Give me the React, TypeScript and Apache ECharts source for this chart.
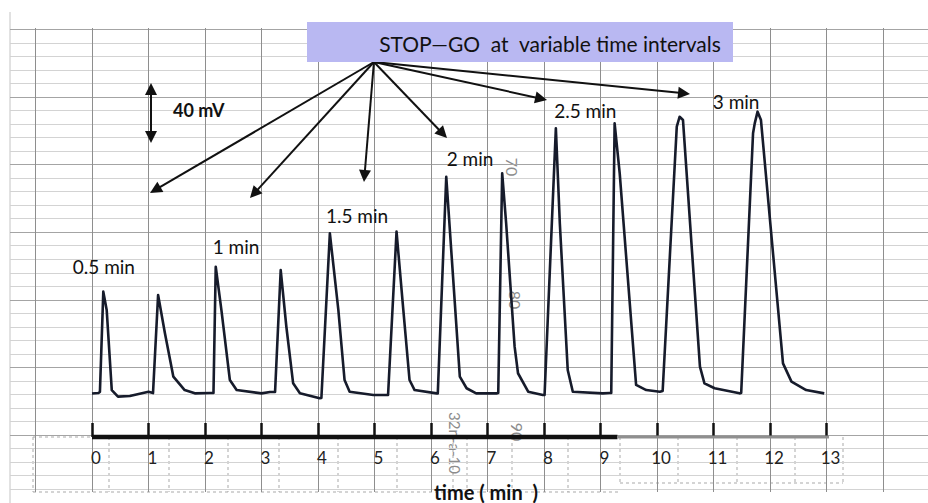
import React, { useEffect, useRef } from "react";
import * as echarts from "echarts";

const W = 928;
const H = 503;

// Recorder trace: time (min) and detector signal (mV above baseline)
const TRACE_TIME = [
  0, 0.11, 0.14, 0.2, 0.26, 0.35, 0.46, 0.67, 1.0, 1.08, 1.17, 1.29, 1.44, 1.64, 1.82,
  2.09, 2.15, 2.19, 2.29, 2.44, 2.56, 3.0, 3.15, 3.24, 3.34, 3.44, 3.56, 3.68, 4.03,
  4.06, 4.21, 4.36, 4.47, 4.56, 4.98, 5.21, 5.24, 5.39, 5.51, 5.62, 5.71, 6.1, 6.12,
  6.27, 6.39, 6.51, 6.63, 6.8, 7.16, 7.19, 7.26, 7.33, 7.48, 7.54, 7.72, 7.98, 8.01,
  8.21, 8.28, 8.42, 8.51, 9.04, 9.16, 9.19, 9.25, 9.34, 9.63, 9.81, 10.05, 10.1, 10.35,
  10.4, 10.46, 10.76, 10.84, 11.02, 11.46, 11.49, 11.7, 11.73, 11.78, 11.84, 12.23,
  12.38, 12.64, 12.96,
];
const TRACE_MV = [
  1, 1.3, 2, 68.9, 56.7, 3.3, -1.1, -0.7, 2.2, 1.3, 66.7, 41.3, 12.2, 3.3, 1.1,
  1.3, 1.3, 85.5, 56.7, 10, 3.3, 1.1, 2, 2, 83.3, 45.5, 7.8, 1.1, -2.2,
  -2, 107.8, 56.7, 10, 2.2, 0, 0, 0, 108.9, 56.7, 10, 3.3, 1.1, 1.1,
  145.5, 78.9, 12.2, 4.5, 1.1, 1.1, 1.3, 147.8, 114.5, 32.2, 14.5, 2.2, 0, 0,
  177.8, 114.5, 16.7, 2.2, 1.1, 1.3, 1.3, 181.1, 147.8, 6.7, 3.3, 2.2, 2.7, 178.9,
  185.5, 183.3, 18.9, 7.8, 4.5, 1.1, 1.3, 174.5, 181.1, 188.9, 183.3, 21.1,
  8.9, 3.3, 1.1,
];

// Time axis
const TIME_TICK_LABELS = ["0", "1", "2", "3", "4", "5", "6", "7", "8", "9", "10", "11", "12", "13"];
const TIME_MIN = 0;
const TIME_MAX = 13;
const MV_MIN = -28;
const MV_MAX = 260;

// Stop-go interval annotations
const INTERVAL_LABELS = ["0.5 min", "1 min", "1.5 min", "2 min", "2.5 min", "3 min"];
const INTERVAL_LABEL_TIME = [0.21, 2.55, 4.69, 6.69, 8.73, 11.4];
const INTERVAL_LABEL_MV = [86, 98.7, 120, 158, 190, 196];

// Callout arrows from the heading box (tips in time / mV)
const ARROW_ORIGIN_TIME = 4.99;
const ARROW_ORIGIN_MV = 222;
const ARROW_TIP_TIME = [1.027, 2.796, 4.814, 6.283, 8.053, 10.584];
const ARROW_TIP_MV = [134.7, 131.3, 142, 171.3, 196.7, 200.7];

// 40 mV scale bar
const SCALE_BAR_TIME = 1.044;
const SCALE_BAR_MV = [168, 208];
const SCALE_BAR_LABEL = "40 mV";
const SCALE_LABEL_TIME = 1.89;
const SCALE_LABEL_MV = 190;

const TITLE = "STOP\u2014GO  at  variable time intervals";
const AXIS_TITLE = "time ( min  )";

// layout of the plotting area
const PLOT_LEFT = 92;
const PLOT_RIGHT = 101.5;
const PLOT_TOP = 5;
const PLOT_BOTTOM = 66;
const ARROW = 12;
const FONT = "Lato, 'Open Sans', sans-serif";

const pxPerMin = (W - PLOT_LEFT - PLOT_RIGHT) / (TIME_MAX - TIME_MIN);
const pxPerMv = (H - PLOT_TOP - PLOT_BOTTOM) / (MV_MAX - MV_MIN);

// pull an arrow end back by half the head size so the head's tip lands on the target
function headCentre(t0: number, v0: number, t1: number, v1: number) {
  const dx = (t1 - t0) * pxPerMin;
  const dy = (v1 - v0) * pxPerMv;
  const len = Math.hypot(dx, dy) || 1;
  const back = ARROW / 2;
  return [t1 - (dx / len) * back / pxPerMin, v1 - (dy / len) * back / pxPerMv];
}

export default function App() {
  const ref = useRef<HTMLDivElement>(null);

  useEffect(() => {
    if (!ref.current) return;
    const chart = echarts.init(ref.current, null, { renderer: "svg" });

    const trace = TRACE_TIME.map((t, i) => [t, TRACE_MV[i]]);

    const labelItems: any[] = INTERVAL_LABELS.map((name, i) => ({
      name,
      value: [INTERVAL_LABEL_TIME[i], INTERVAL_LABEL_MV[i]],
    }));
    labelItems.push({
      name: SCALE_BAR_LABEL,
      value: [SCALE_LABEL_TIME, SCALE_LABEL_MV],
      label: { fontWeight: "bold", fontSize: 18 },
    });

    const arrowLines: any[] = ARROW_TIP_TIME.map((t, i) => [
      { coord: [ARROW_ORIGIN_TIME, ARROW_ORIGIN_MV], symbol: "none" },
      {
        coord: headCentre(ARROW_ORIGIN_TIME, ARROW_ORIGIN_MV, t, ARROW_TIP_MV[i]),
        symbol: "triangle",
      },
    ]);
    const mid = (SCALE_BAR_MV[0] + SCALE_BAR_MV[1]) / 2;
    arrowLines.push([
      { coord: headCentre(SCALE_BAR_TIME, mid, SCALE_BAR_TIME, SCALE_BAR_MV[0]), symbol: "triangle" },
      { coord: headCentre(SCALE_BAR_TIME, mid, SCALE_BAR_TIME, SCALE_BAR_MV[1]), symbol: "triangle" },
    ]);

    const hidden = {
      axisLine: { show: false },
      axisTick: { show: false },
      axisLabel: { show: false },
      splitLine: { show: false },
    };

    // dashed cell borders printed under the time scale
    const dashStyle = { stroke: "#a9a9a9", lineWidth: 1, lineDash: [3, 3] };
    const dashV = [33, 109, 169, 228, 279, 338, 397, 453, 467, 512, 568];
    const dashV2 = [620, 678, 737, 795, 843];
    const dashed: any[] = [
      ...dashV.map((x) => ({ type: "line", shape: { x1: x, y1: 437, x2: x, y2: 492 }, style: dashStyle, silent: true })),
      ...dashV2.map((x) => ({ type: "line", shape: { x1: x, y1: 437, x2: x, y2: 483 }, style: dashStyle, silent: true })),
      { type: "line", shape: { x1: 33, y1: 492, x2: 620, y2: 492 }, style: dashStyle, silent: true },
      { type: "line", shape: { x1: 620, y1: 483, x2: 843, y2: 483 }, style: dashStyle, silent: true },
      { type: "line", shape: { x1: 33, y1: 437, x2: 92, y2: 437 }, style: dashStyle, silent: true },
    ];

    const grayPrint = (text: string, x: number, y: number, size: number) => ({
      type: "text",
      x,
      y,
      rotation: -Math.PI / 2,
      silent: true,
      style: {
        text,
        fill: "#8c8c8c",
        fontSize: size,
        fontFamily: FONT,
        align: "center",
        verticalAlign: "middle",
      },
    });

    chart.setOption({
      animation: false,
      backgroundColor: "#ffffff",
      grid: [
        // chart-paper horizontals
        { left: 10, right: 0, top: 29.4, bottom: 13.9, outerBoundsMode: "none", containLabel: false },
        // chart-paper verticals
        { left: 35.5, right: 45, top: 28, bottom: 11, outerBoundsMode: "none", containLabel: false },
        // recorder trace
        {
          left: PLOT_LEFT,
          right: PLOT_RIGHT,
          top: PLOT_TOP,
          bottom: PLOT_BOTTOM,
          outerBoundsMode: "none",
          containLabel: false,
        },
      ],
      xAxis: [
        { gridIndex: 0, type: "value", min: 0, max: 1, ...hidden },
        {
          gridIndex: 1,
          type: "value",
          min: -1,
          max: 14,
          interval: 1,
          ...hidden,
          splitLine: { show: true, lineStyle: { color: "#8e8e8e", width: 1 } },
        },
        {
          gridIndex: 2,
          type: "value",
          min: TIME_MIN,
          max: TIME_MAX,
          interval: 1,
          axisLine: { show: false, onZero: false },
          axisTick: { show: true, inside: true, length: 14, lineStyle: { color: "#111", width: 2.5 } },
          axisLabel: {
            show: true,
            margin: 12,
            padding: [0, 0, 0, 8],
            color: "#222",
            fontSize: 17,
            fontFamily: FONT,
            formatter: (v: number) => TIME_TICK_LABELS[Math.round(v)] ?? "",
          },
          splitLine: { show: false },
        },
      ],
      yAxis: [
        {
          gridIndex: 0,
          type: "value",
          min: 0,
          max: 34,
          interval: 1,
          ...hidden,
          splitLine: {
            show: true,
            lineStyle: { color: ["#d3d3d3", "#d3d3d3", "#d3d3d3", "#d3d3d3", "#a4a4a4"], width: 1 },
          },
        },
        { gridIndex: 1, type: "value", min: 0, max: 1, ...hidden },
        { gridIndex: 2, type: "value", min: MV_MIN, max: MV_MAX, ...hidden },
      ],
      series: [
        {
          type: "line",
          name: "axis",
          xAxisIndex: 2,
          yAxisIndex: 2,
          data: [
            [TIME_MIN, MV_MIN],
            [9.3, MV_MIN],
          ],
          showSymbol: false,
          clip: false,
          silent: true,
          lineStyle: { color: "#111", width: 4.5 },
          z: 3,
        },
        {
          type: "line",
          name: "axis-faded",
          xAxisIndex: 2,
          yAxisIndex: 2,
          data: [
            [9.3, MV_MIN],
            [TIME_MAX + 0.05, MV_MIN],
          ],
          showSymbol: false,
          clip: false,
          silent: true,
          lineStyle: { color: "#8f8f8f", width: 3 },
          z: 3,
        },
        {
          type: "line",
          name: "signal",
          xAxisIndex: 2,
          yAxisIndex: 2,
          data: trace,
          showSymbol: false,
          clip: false,
          silent: true,
          lineStyle: { color: "#161b2b", width: 2.6, join: "round" },
          z: 5,
        },
        {
          type: "scatter",
          name: "annotations",
          xAxisIndex: 2,
          yAxisIndex: 2,
          data: labelItems,
          symbolSize: 1,
          itemStyle: { color: "rgba(0,0,0,0)" },
          silent: true,
          label: {
            show: true,
            position: "inside",
            formatter: "{b}",
            color: "#111111",
            opacity: 1,
            textBorderWidth: 0,
            fontSize: 19,
            fontFamily: FONT,
          },
          markLine: {
            silent: true,
            animation: false,
            symbolSize: ARROW,
            label: { show: false },
            lineStyle: { color: "#111", width: 2, type: "solid" },
            emphasis: { disabled: true },
            data: arrowLines,
          },
          z: 6,
        },
      ],
      graphic: [
        { type: "line", shape: { x1: 10, y1: 12, x2: 10, y2: 503 }, style: { stroke: "#c4c4c4", lineWidth: 1 }, silent: true },
        ...dashed,
        grayPrint("70", 512, 167, 16),
        grayPrint("80", 515, 300, 16),
        grayPrint("90", 517, 432, 16),
        grayPrint("32n-a-10", 455, 443, 15),
        {
          type: "rect",
          shape: { x: 307, y: 22, width: 426, height: 40 },
          style: { fill: "#b9b8f2" },
          silent: true,
          z: 10,
        },
        {
          type: "text",
          x: 550,
          y: 43,
          silent: true,
          z: 11,
          style: {
            text: TITLE,
            fill: "#111",
            fontSize: 21,
            fontFamily: FONT,
            align: "center",
            verticalAlign: "middle",
          },
        },
        {
          type: "text",
          x: 486,
          y: 502,
          silent: true,
          z: 11,
          style: {
            text: AXIS_TITLE,
            fill: "#111",
            fontSize: 20,
            fontWeight: "bold",
            fontFamily: FONT,
            align: "center",
            verticalAlign: "bottom",
          },
        },
      ],
    });

    return () => chart.dispose();
  }, []);

  return (
    <div
      ref={ref}
      style={{ position: "fixed", left: 0, top: 0, width: W, height: H, background: "#fff" }}
    />
  );
}
